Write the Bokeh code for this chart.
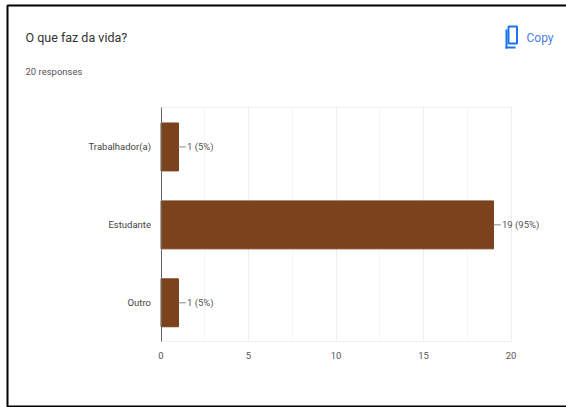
from bokeh.plotting import figure
from bokeh.embed import file_html
from bokeh.resources import INLINE
from bokeh.models import Range1d, FixedTicker, Label, BoxAnnotation
from bokeh.core.properties import value

categories = ["Outro", "Estudante", "Trabalhador(a)"]
category_pos = [0, 1, 2]
counts = [1, 19, 1]
labels = ["1 (5%)", "19 (95%)", "1 (5%)"]
major_ticks = [0, 5, 10, 15, 20]
minor_ticks = [2.5, 7.5, 12.5, 17.5]
title_text = "O que faz da vida?"
subtitle_text = "20 responses"
copy_text = "Copy"

FONT = "Roboto"
W, H = 566, 407
PX_X = 17.5      # pixels per response
PX_Y = 77.93     # pixels per category
X0 = 160.5       # canvas x of value 0
Y0 = 302.3       # canvas y of the lowest category

p = figure(width=W, height=H, output_backend="svg", toolbar_location=None,
           x_range=Range1d(-X0 / PX_X, (W - X0) / PX_X),
           y_range=Range1d((Y0 - H) / PX_Y, Y0 / PX_Y),
           min_border=0, background_fill_color="white", border_fill_color="white")
p.outline_line_color = None

band = (category_pos[0] - 0.5, category_pos[-1] + 0.5)
span = (major_ticks[0], major_ticks[-1])

p.xgrid.ticker = FixedTicker(ticks=major_ticks, minor_ticks=minor_ticks)
p.xgrid.cross_bounds = band
p.xgrid.grid_line_color = "#eeeeee"
p.xgrid.minor_grid_line_color = "#f6f6f6"
p.ygrid.ticker = FixedTicker(ticks=list(band))
p.ygrid.cross_bounds = span
p.ygrid.grid_line_color = "#f1f1f1"

p.xaxis.fixed_location = band[0]
p.xaxis.bounds = span
p.xaxis.ticker = FixedTicker(ticks=major_ticks)
p.xaxis.axis_line_color = None
p.xaxis.major_tick_line_color = None
p.xaxis.minor_tick_line_color = None
p.xaxis.major_label_standoff = 4
p.xaxis.major_label_text_font = FONT
p.xaxis.major_label_text_font_size = "9.5px"
p.xaxis.major_label_text_color = "#555555"

p.yaxis.fixed_location = 0
p.yaxis.bounds = band
p.yaxis.ticker = FixedTicker(ticks=category_pos)
p.yaxis.major_label_overrides = dict(zip(category_pos, categories))
p.yaxis.axis_line_color = "#666666"
p.yaxis.axis_line_width = 1
p.yaxis.major_tick_line_color = None
p.yaxis.minor_tick_line_color = None
p.yaxis.major_label_standoff = 4
p.yaxis.major_label_text_font = FONT
p.yaxis.major_label_text_font_size = "9.5px"
p.yaxis.major_label_text_color = "#444444"

p.hbar(y=category_pos, right=counts, left=0, height=0.615, color="#7c421c")
p.segment(x0=counts, x1=[c + 0.42 for c in counts], y0=category_pos, y1=category_pos,
          line_color="#888888", line_width=1)
p.text(x=counts, y=category_pos, text=labels, x_offset=8.5, text_baseline="middle", text_align="left",
       text_font=value(FONT), text_font_size="9.5px", text_color="#555555")

def lab(x, y, t, size, color):
    p.add_layout(Label(x=x, y=H - y, x_units="screen", y_units="screen", text=t, text_font=FONT,
                       text_font_size=size, text_color=color, text_baseline="middle", text_align="left"))

lab(25, 37, title_text, "12.5px", "#333333")
lab(25, 71, subtitle_text, "9.5px", "#555555")
lab(526, 37, copy_text, "12px", "#4a80e8")

def box(l, r, t, b, color, fill=0, width=2):
    p.add_layout(BoxAnnotation(left=l, right=r, top=H - t, bottom=H - b,
                               left_units="screen", right_units="screen", top_units="screen", bottom_units="screen",
                               fill_alpha=fill, fill_color=color, line_color=color, line_width=width, line_alpha=1))

box(7, 600, 5, 406, "black")   # page frame
box(508, 516.5, 26, 43, "#1a73e8")   # copy icon, front sheet
box(505, 507, 29, 48, "#1a73e8", fill=1, width=0)   # copy icon, back sheet
box(505, 515, 46, 48, "#1a73e8", fill=1, width=0)

open("out.html", "w").write(file_html(p, INLINE))
